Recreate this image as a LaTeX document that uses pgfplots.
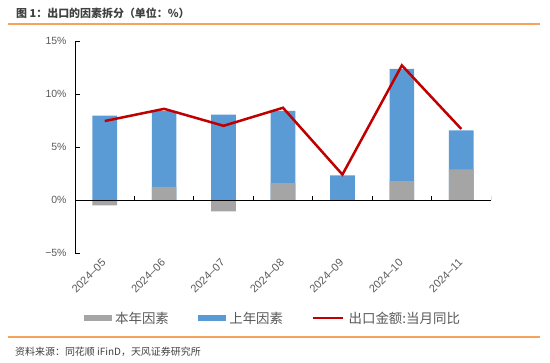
\documentclass[border=0pt]{standalone}
\usepackage{fontspec}
\usepackage{pgfplots}
\usepackage{pgfplotstable}
\pgfplotsset{compat=1.18}
\setmainfont{Liberation Sans}
\newfontfamily\cjk{Noto Sans CJK SC}
\definecolor{cgrey}{RGB}{165,165,165}
\definecolor{cblue}{RGB}{91,155,213}
\definecolor{cred}{RGB}{192,0,0}
\definecolor{corange}{RGB}{245,162,92}
\definecolor{ctext}{RGB}{89,89,89}
\definecolor{ctitle}{RGB}{64,64,64}

\pgfplotstableread{
x cur prev total
0 -0.50 7.95 7.45
1 1.25 7.17 8.60
2 -1.07 8.05 7.00
3 1.60 6.82 8.70
4 0.00 2.32 2.40
5 1.79 10.57 12.70
6 2.89 3.68 6.70
}\datatable

\begin{document}
\begin{tikzpicture}
\useasboundingbox (0bp,0bp) rectangle (550bp,-363bp);
\node[anchor=west, font=\cjk\bfseries\fontsize{11}{13}\selectfont, text=ctitle, inner sep=0pt] at (16bp,-13bp) {图 1：出口的因素拆分（单位：\%）};
\draw[corange, line width=1.4bp] (8bp,-24bp) -- (540bp,-24bp);
\draw[corange, line width=1.4bp] (8bp,-337bp) -- (540bp,-337bp);
\node[anchor=west, font=\cjk\fontsize{10}{12}\selectfont, text=ctitle, inner sep=0pt] at (15bp,-352bp) {资料来源：同花顺 iFinD，天风证券研究所};
\begin{axis}[
  at={(75bp,-253bp)}, anchor=south west,
  scale only axis, width=416bp, height=212bp,
  xmin=-0.5, xmax=6.5, ymin=-5, ymax=15,
  axis y line*=left, axis x line*=bottom,
  x axis line style={draw=none},
  y axis line style={black, line width=0.8bp},
  xtick={0,...,6},
  xticklabels={2024--05,2024--06,2024--07,2024--08,2024--09,2024--10,2024--11},
  xtick style={draw=none},
  xticklabel shift=7bp,
  xticklabel style={rotate=45, anchor=east, font=\fontsize{11}{13}\selectfont, text=ctext, inner sep=1bp},
  ytick={-5,0,5,10,15},
  yticklabels={−5\%,0\%,5\%,10\%,15\%},
  yticklabel shift=5bp,
  yticklabel style={font=\fontsize{10.5}{12}\selectfont, text=ctext},
  ytick style={black, line width=0.8bp},
  tick align=inside,
  major tick length=5bp,
  legend style={at={(0.478,-0.307)}, anchor=center, draw=none, fill=none,
    legend columns=3, font=\cjk\fontsize{13.5}{15}\selectfont, text=ctext,
    /tikz/every even column/.append style={column sep=25bp},
    nodes={inner xsep=4bp}},
  legend cell align=left,
]
\addplot[ybar, bar width=24.7bp, bar shift=0pt, fill=cblue, draw=none, forget plot]
  table[x=x, y expr={\thisrow{prev}+max(\thisrow{cur},0)}]{\datatable};
\addplot[ybar, bar width=24.7bp, bar shift=0pt, fill=cgrey, draw=none, forget plot]
  table[x=x, y=cur]{\datatable};
\draw[black, line width=0.8bp] (axis cs:-0.5,0) -- (axis cs:6.5,0);
\pgfplotsinvokeforeach{0.5,1.5,2.5,3.5,4.5,5.5,6.5}{
  \draw[black, line width=0.8bp] (axis cs:#1,0) -- ++(0bp,4bp);
}
\addplot[cred, line width=2.5bp, mark=none, forget plot] table[x=x, y=total]{\datatable};
\addlegendimage{legend image code/.code={\fill[cgrey] (0bp,-2.5bp) rectangle (27bp,2.5bp);}}
\addlegendentry{本年因素}
\addlegendimage{legend image code/.code={\fill[cblue] (0bp,-2.5bp) rectangle (27bp,2.5bp);}}
\addlegendentry{上年因素}
\addlegendimage{legend image code/.code={\draw[cred, line width=2.5bp] (0bp,0bp) -- (30bp,0bp);}}
\addlegendentry{出口金额:当月同比}
\end{axis}
\end{tikzpicture}
\end{document}
